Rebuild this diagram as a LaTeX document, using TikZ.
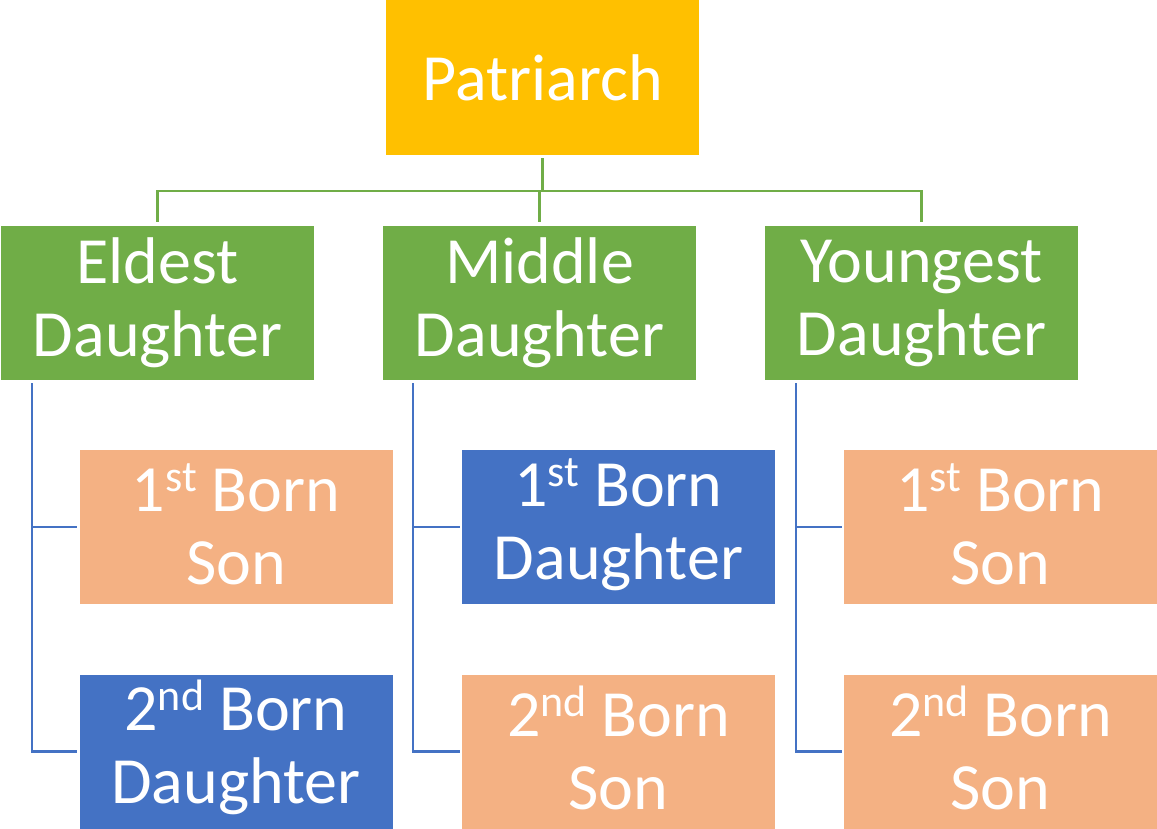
\documentclass[tikz,border=0pt]{standalone}
\usepackage{fontspec}
\setmainfont{Carlito}
\definecolor{gold}{HTML}{FFC000}
\definecolor{leaf}{HTML}{70AD47}
\definecolor{sky}{HTML}{4472C4}
\definecolor{peach}{HTML}{F4B183}
\newcommand\bigtext{\fontsize{66}{73}\selectfont}
\newcommand\mysup[1]{\raisebox{20pt}[0pt][0pt]{\fontsize{44}{44}\selectfont #1}}
\tikzset{
  box/.style={rectangle, minimum width=313pt, minimum height=154pt, inner sep=0pt,
    text=white, align=center, font=\bigtext},
  goldbox/.style={box, fill=gold, minimum height=155pt},
  greenbox/.style={box, fill=leaf},
  bluebox/.style={box, fill=sky},
  peachbox/.style={box, fill=peach},
  gline/.style={draw=leaf, line width=2.5pt},
  bline/.style={draw=sky, line width=2.5pt}
}
\begin{document}
\begin{tikzpicture}[x=1pt,y=-1pt]
\useasboundingbox (0,0) rectangle (1157,829);
\node[goldbox] (P) at (542.5,77.5) {Patriarch};
\node[greenbox] (E) at (157.5,303) {Eldest\\Daughter};
\node[greenbox] (M) at (539.5,303) {Middle\\Daughter};
\node[greenbox] (Y) at (921.5,303) {Youngest\\Daughter};
\node[peachbox] (E1) at (236,527) {1\mysup{st} Born\\Son};
\node[bluebox] (E2) at (236,751.5) {2\mysup{nd} Born\\Daughter};
\node[bluebox] (M1) at (618.5,527) {1\mysup{st} Born\\Daughter};
\node[peachbox] (M2) at (618.5,751.5) {2\mysup{nd} Born\\Son};
\node[peachbox] (Y1) at (1000.5,527) {1\mysup{st} Born\\Son};
\node[peachbox] (Y2) at (1000.5,751.5) {2\mysup{nd} Born\\Son};
% green connectors
\coordinate (pb) at ([yshift=-36pt]P.south);
\draw[gline] ([yshift=-3pt]P.south) -- (pb);
\draw[gline] ([yshift=4pt]E.north) -- (E.north |- pb) -- (Y.north |- pb) -- ([yshift=4pt]Y.north);
\draw[gline] ([yshift=4pt]M.north) -- (M.north |- pb);
% blue connectors
\coordinate (e0) at ([xshift=31pt,yshift=-3pt]E.south west);
\coordinate (m0) at ([xshift=30pt,yshift=-3pt]M.south west);
\coordinate (y0) at ([xshift=31pt,yshift=-3pt]Y.south west);
\draw[bline] (e0) |- ([xshift=-2pt]E1.west);
\draw[bline] (e0) |- ([xshift=-2pt]E2.west);
\draw[bline] (m0) |- ([xshift=-2pt]M1.west);
\draw[bline] (m0) |- ([xshift=-2pt]M2.west);
\draw[bline] (y0) |- ([xshift=-2pt]Y1.west);
\draw[bline] (y0) |- ([xshift=-2pt]Y2.west);
\end{tikzpicture}
\end{document}
